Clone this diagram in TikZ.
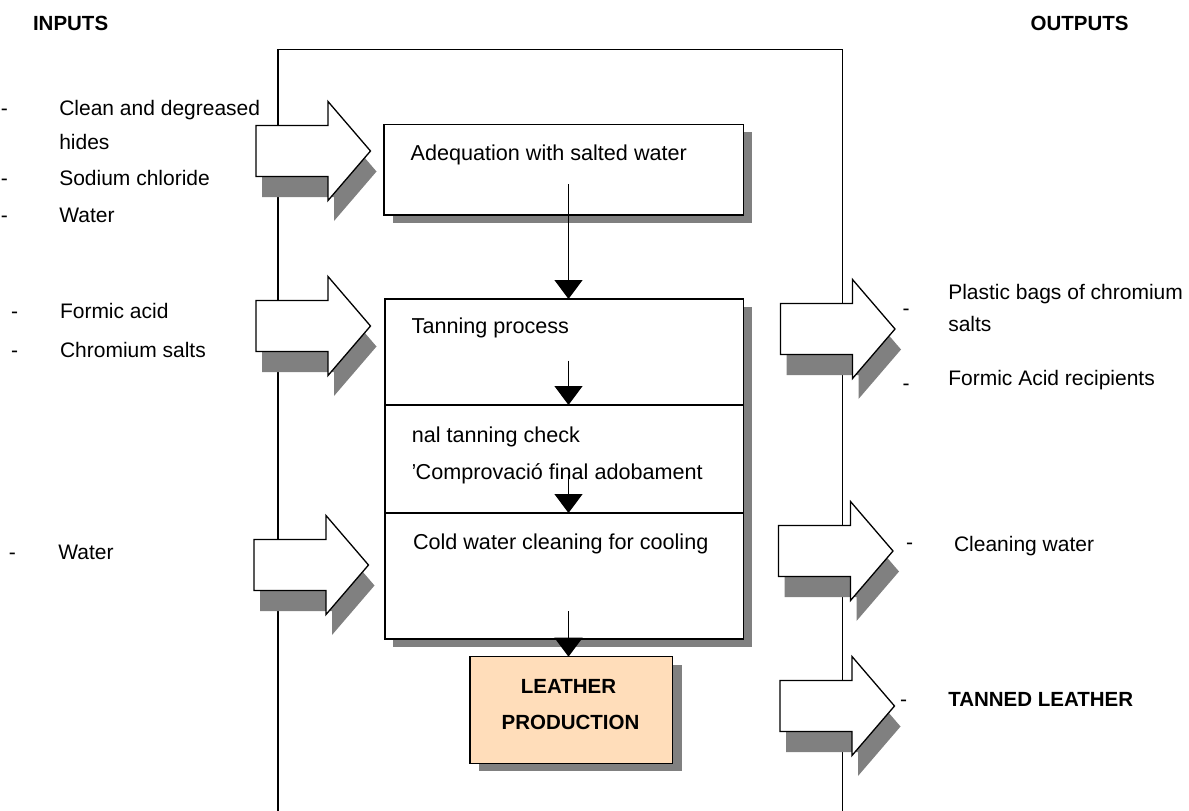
\documentclass[tikz,border=0pt]{standalone}
\usepackage{fontspec}
\setmainfont{Liberation Sans}
\usetikzlibrary{arrows.meta}
\definecolor{peach}{RGB}{255,221,186}
\definecolor{shadowgray}{RGB}{128,128,128}
\begin{document}
\begin{tikzpicture}[x=1pt,y=-1pt,
  frame/.style={line width=1.4pt},
  dropshadow/.style={fill=shadowgray, draw=none},
  stepbox/.style={draw, line width=1.3pt, fill=white, rectangle, inner sep=0pt, outer sep=0pt, anchor=north west},
  txt/.style={inner sep=0pt, outer sep=0pt, anchor=base west, font=\fontsize{21}{25}\selectfont},
  boxtxt/.style={txt, font=\fontsize{21.6}{26}\selectfont},
  headtxt/.style={txt, font=\bfseries\fontsize{20.5}{25}\selectfont},
  flow/.style={line width=1.3pt, -{Triangle[width=28pt,length=19pt]}},
  fat/.style={draw, line width=1.3pt, fill=white, line join=miter},
  pics/fatarrow/.style={code={
    \path[dropshadow, shift={(6,20.5)}] (0,-25.5) -- (72,-25.5) -- (72,-49.5) -- (114.5,0)
      -- (72,49.5) -- (72,25.5) -- (0,25.5) -- cycle;
    \path[fat] (0,-25.5) -- (72,-25.5) -- (72,-49.5) -- (114.5,0)
      -- (72,49.5) -- (72,25.5) -- (0,25.5) -- cycle;
  }},
]
\useasboundingbox (0,0) rectangle (1189,811);

% process frame, open at the bottom
\draw[frame] (278,812) -- (278,49.3) -- (842.5,49.3) -- (842.5,812);

% input and output block arrows
\pic at (256,151) {fatarrow};
\pic at (256,326) {fatarrow};
\pic at (254,565) {fatarrow};
\pic at (780.5,329) {fatarrow};
\pic at (778.5,551) {fatarrow};
\pic at (780,706) {fatarrow};

% process steps
\path[dropshadow] (392.5,132.3) rectangle (751.8,223);
\node[stepbox, minimum width=359.3pt, minimum height=90.7pt] (adeq) at (384,124.3) {};
\path[dropshadow] (393,307) rectangle (751.5,647);
\node[stepbox, minimum width=358.3pt, minimum height=106pt] (tan) at (385,299) {};
\node[stepbox, minimum width=358.3pt, minimum height=108pt] (chk) at (385,405) {};
\node[stepbox, minimum width=358.3pt, minimum height=126pt] (cold) at (385,513) {};
\path[dropshadow] (478.5,664.5) rectangle (681.5,771);
\node[stepbox, fill=peach, minimum width=202.7pt, minimum height=106.6pt] (leather) at (470,656.7) {};

% step labels
\node[boxtxt] (adeqt) at (410.7,160.7) {Adequation with salted water};
\node[boxtxt] (tant) at (411.7,333.3) {Tanning process};
\begin{scope}
  \clip (413,405) rectangle (743,513);
  \node[boxtxt] (chk1) at (411.9,442.7) {\llap{Fi}nal tanning check};
  \node[boxtxt] (chk2) at (415.7,479.3) {\llap{"}Comprovació final adobament};
\end{scope}
\node[boxtxt] (coldt) at (413,549.3) {Cold water cleaning for cooling};
\node[headtxt, anchor=base] (lea1) at (568.5,693.3) {LEATHER};
\node[headtxt, anchor=base] (lea2) at (570.5,729) {PRODUCTION};

% flow between steps
\coordinate (f1) at (568.5,184);
\coordinate (f2) at (568.5,360.7);
\coordinate (f3) at (568.5,475);
\coordinate (f4) at (568.5,611);
\draw[flow] (f1) -- (f1 |- tan.north);
\draw[flow] (f2) -- (f2 |- chk.north);
\draw[flow] (f3) -- (f3 |- cold.north);
\draw[flow] (f4) -- (f4 |- leather.north);

% headings
\node[headtxt] (inputs) at (33,30) {INPUTS};
\node[headtxt] (outputs) at (1030.7,30) {OUTPUTS};

% inputs
\node[txt] (d1) at (1,115) {-};
\node[txt] (i1) at (59.3,115) {Clean and degreased};
\node[txt] (i1b) at (59.3,149.3) {hides};
\node[txt] (d2) at (1,185) {-};
\node[txt] (i2) at (59.3,185) {Sodium chloride};
\node[txt] (d3) at (1,222.7) {-};
\node[txt] (i3) at (59.3,222.7) {Water};
\node[txt] (d4) at (11,318.3) {-};
\node[txt] (i4) at (60,318.3) {Formic acid};
\node[txt] (d5) at (11,357.3) {-};
\node[txt] (i5) at (60,357.3) {Chromium salts};
\node[txt] (d6) at (9,559.3) {-};
\node[txt] (i6) at (58.3,559.3) {Water};

% outputs
\node[txt] (e1) at (902.5,315.8) {-};
\node[txt] (o1) at (948.3,299.3) {Plastic bags of chromium};
\node[txt] (o1b) at (948.3,331.7) {salts};
\node[txt] (e2) at (902.5,390.8) {-};
\node[txt] (o2) at (948.3,385) {Formic Acid recipients};
\node[txt] (e3) at (906,549) {-};
\node[txt] (o3) at (954,551.7) {Cleaning water};
\node[txt] (e4) at (900,706.8) {-};
\node[headtxt] (o4) at (948.3,706.7) {TANNED LEATHER};
\end{tikzpicture}
\end{document}
